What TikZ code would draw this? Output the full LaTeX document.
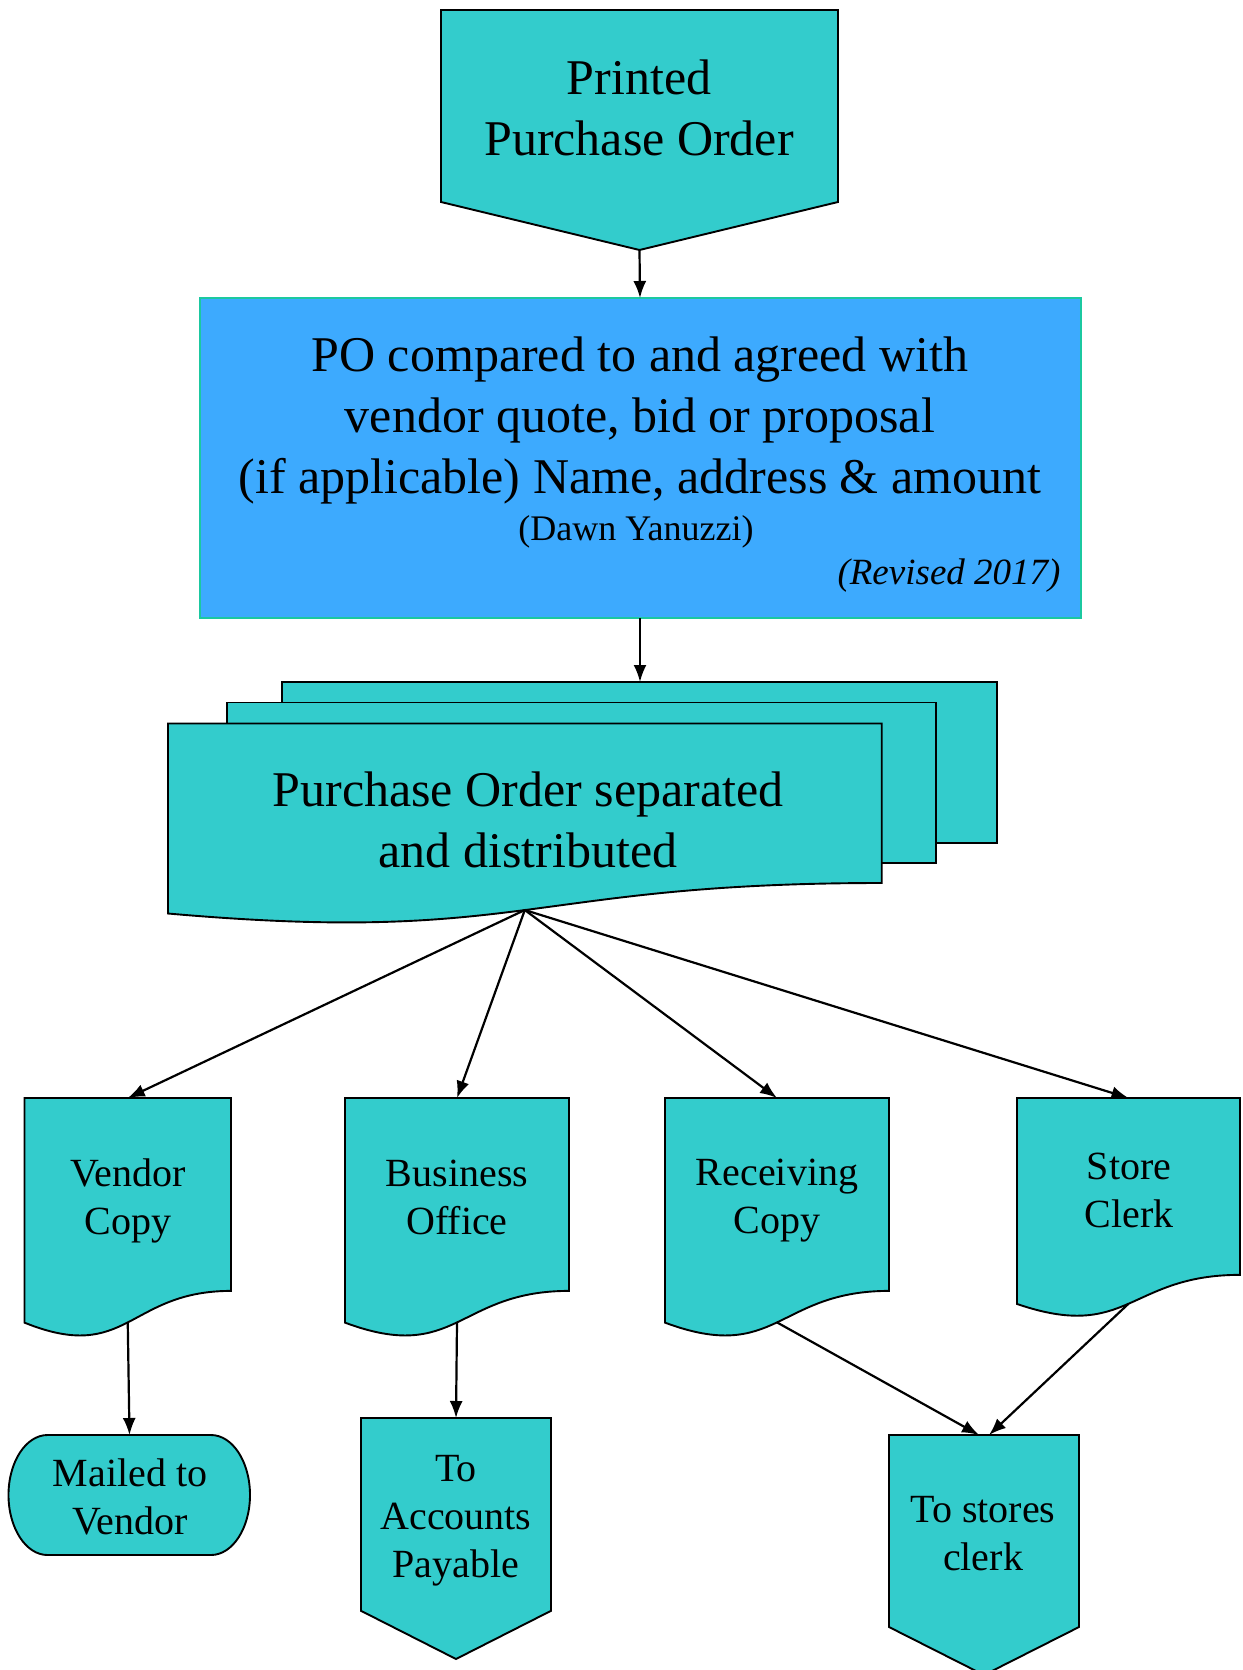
\documentclass[tikz,border=0pt]{standalone}
\usepackage{fontspec}
\setmainfont{Liberation Serif}
\usetikzlibrary{arrows.meta}
\definecolor{pocyan}{HTML}{33CCCC}
\definecolor{poblue}{HTML}{3DAAFE}
\definecolor{poedge}{HTML}{1BC8A0}
\tikzset{
  box/.style={draw=black, fill=pocyan, line width=1.9pt},
  flow/.style={-{Latex[length=17pt,width=13pt]}, line width=2.2pt},
  big/.style={font=\fontsize{50}{61}\selectfont, align=center},
  small/.style={font=\fontsize{40}{48}\selectfont, align=center},
}
% document symbol: name, left, top, width, height
\newcommand\docsym[5]{%
  \draw[box] (#2,#3) -- ++(#4,0) -- ++(0,0.802*#5)
    .. controls +(-0.5*#4,0) and (#2+0.5*#4,#3+1.1075*#5) .. (#2,#3+0.934*#5) -- cycle;
  \coordinate (#1-top) at (#2+0.5*#4,#3);
  \coordinate (#1-bot) at (#2+0.5*#4,#3+0.933*#5);
}
% off-page connector: name, left, top, width, height
\newcommand\offpage[5]{%
  \draw[box] (#2,#3) -- ++(#4,0) -- ++(0,0.8*#5) -- (#2+0.5*#4,#3+#5)
    -- (#2,#3+0.8*#5) -- cycle;
  \coordinate (#1-top) at (#2+0.5*#4,#3);
  \coordinate (#1-bot) at (#2+0.5*#4,#3+#5);
}
\begin{document}
\begin{tikzpicture}[x=1pt,y=-1pt]
  \useasboundingbox (0,0) rectangle (1242,1670);

  \offpage{printed}{441}{10}{397}{240}
  \draw[fill=poblue, draw=poedge, line width=1.6pt] (200,298) rectangle (1081,618);
  \coordinate (po-top) at (640,298);
  \coordinate (po-bot) at (640,618);

  % stacked copies
  \draw[box] (282,682) rectangle (997,843);
  \draw[box] (227,702.5) rectangle (935.7,863);
  \draw[box] (168,723.5) -- (881.7,723.5) -- (881.7,883)
    .. controls (524.8,883) and (524.8,945) .. (168,913.5) -- cycle;
  \coordinate (sep-top) at (640,682);
  \coordinate (sep-bot) at (524.8,910);

  \docsym{vendor}{24.5}{1098}{206.5}{240.5}
  \docsym{business}{345}{1098}{224}{240.5}
  \docsym{receiving}{665}{1098}{224}{240.5}
  \docsym{store}{1017}{1098}{223}{220.5}

  \draw[box] (47.5,1435) -- (211,1435)
    arc[start angle=-90, end angle=90, x radius=39, y radius=60]
    -- (47.5,1555) arc[start angle=90, end angle=270, x radius=39, y radius=60] -- cycle;
  \coordinate (mail-top) at (129.5,1435);
  \offpage{accounts}{361}{1418}{190}{241}
  \offpage{stores}{889}{1435}{190}{240}

  \node[big] (printed) at (639,108) {Printed\\Purchase Order};
  \node[big] (po) at (640,420) {PO compared to and agreed with\\vendor quote, bid or proposal\\(if applicable) Name, address \& amount};
  \node[font=\fontsize{36}{43}\selectfont] (dawn) at (636,532) {(Dawn Yanuzzi)};
  \node[font=\fontsize{37}{44}\selectfont\itshape, anchor=east] (rev) at (1064,576) {(Revised 2017)};
  \node[big] (sep) at (528,820) {Purchase Order separated\\and distributed};
  \node[small] (vendor) at (128,1201) {Vendor\\Copy};
  \node[small] (business) at (457,1197) {Business\\Office};
  \node[small] (receiving) at (777,1201) {Receiving\\Copy};
  \node[small] (store) at (1129,1190) {Store\\Clerk};
  \node[small] (mail) at (130,1497) {Mailed to\\Vendor};
  \node[small] (accounts) at (456,1521) {To\\Accounts\\Payable};
  \node[small] (stores) at (983,1534) {To stores\\clerk};

  \begin{scope}[flow]
    \draw (printed-bot) to (po-top);
    \draw (po-bot) to (sep-top);
    \draw (sep-bot) to (vendor-top);
    \draw (sep-bot) to (business-top);
    \draw (sep-bot) to (receiving-top);
    \draw (sep-bot) to (store-top);
    \draw (vendor-bot) to (mail-top);
    \draw (business-bot) to (accounts-top);
    \draw (receiving-bot) to ([xshift=-5pt]stores-top);
    \draw (store-bot) to ([xshift=5pt]stores-top);
  \end{scope}
\end{tikzpicture}
\end{document}
